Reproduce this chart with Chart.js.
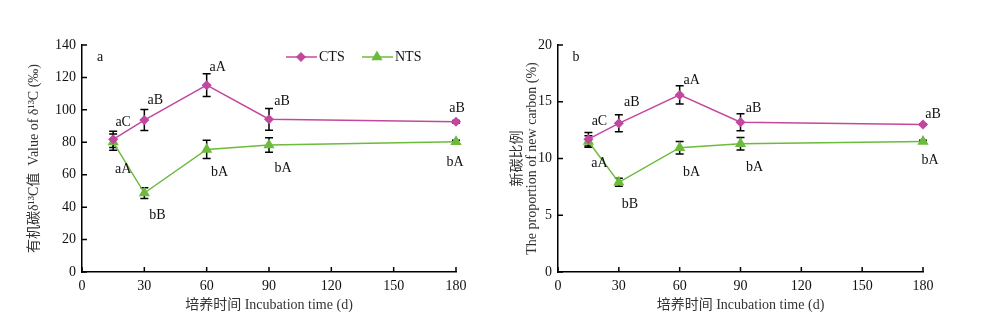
<!DOCTYPE html>
<html lang="zh">
<head>
<meta charset="UTF-8">
<title>δ13C and new carbon proportion</title>
<script src="https://cdn.jsdelivr.net/npm/chart.js"></script>
<style>
  body { margin: 0; background: #fff; width: 1000px; height: 324px; overflow: hidden; position: relative; }
  .box { position: absolute; top: 0; height: 324px; }
</style>
</head>
<body>
<div class="box" style="left:0;width:490px"><canvas id="chart-a" width="490" height="324"></canvas></div>
<div class="box" style="left:490px;width:510px"><canvas id="chart-b" width="510" height="324"></canvas></div>

<script>
// 培养时间 (d)
const days = [15, 30, 60, 90, 180];
const xTicks = [0, 30, 60, 90, 120, 150, 180];

// 图a: 有机碳 δ13C 值 (‰)
const ctsD13C    = [81.8, 93.7, 115.2, 94.2, 92.7];
const ctsD13CErr = [5.0, 6.5, 7.0, 6.7, 0.8];
const ntsD13C    = [80.1, 48.7, 75.6, 78.3, 80.4];
const ntsD13CErr = [5.0, 3.3, 5.6, 4.5, 0.8];
const ctsLettersA = ['aC', 'aB', 'aA', 'aB', 'aB'];
const ntsLettersA = ['aA', 'bB', 'bA', 'bA', 'bA'];

// 图b: 新碳比例 (%)
const ctsNew    = [11.7, 13.1, 15.6, 13.2, 13.0];
const ctsNewErr = [0.6, 0.75, 0.8, 0.75, 0.07];
const ntsNew    = [11.5, 7.9, 10.95, 11.3, 11.5];
const ntsNewErr = [0.5, 0.35, 0.55, 0.55, 0.1];
const ctsLettersB = ['aC', 'aB', 'aA', 'aB', 'aB'];
const ntsLettersB = ['aA', 'bB', 'bA', 'bA', 'bA'];

// label offsets in px from each point
const ctsOffA = [[10, -17], [11, -20], [11, -18], [13, -18], [1, -13]];
const ntsOffA = [[10, 27], [13, 22], [13, 23], [14, 23], [-1, 21]];
const ctsOffB = [[11, -18], [13, -21], [12, -15], [13, -14], [10, -10]];
const ntsOffB = [[11, 22], [11, 22], [12, 25], [14, 24], [7, 19]];

const CTS_COLOR = '#c2489e';
const NTS_COLOR = '#6cbb3c';
const FONT = "'Liberation Serif', 'Noto Sans CJK SC', serif";

// error bars, inward ticks, letters, panel tag, legend
const extras = {
  id: 'extras',
  beforeDatasetsDraw(chart) {
    const ctx = chart.ctx;
    const ys = chart.scales.y;
    ctx.save();
    ctx.strokeStyle = '#000';
    ctx.lineWidth = 1.5;
    chart.data.datasets.forEach((ds, di) => {
      const meta = chart.getDatasetMeta(di);
      meta.data.forEach((pt, i) => {
        const v = ds.data[i].y, e = ds.errors[i];
        const y1 = ys.getPixelForValue(v + e), y2 = ys.getPixelForValue(v - e);
        ctx.beginPath();
        ctx.moveTo(pt.x, y1); ctx.lineTo(pt.x, y2);
        ctx.moveTo(pt.x - 4, y1); ctx.lineTo(pt.x + 4, y1);
        ctx.moveTo(pt.x - 4, y2); ctx.lineTo(pt.x + 4, y2);
        ctx.stroke();
      });
    });
    ctx.restore();
  },
  afterDraw(chart, args, opts) {
    const ctx = chart.ctx;
    const {x: xs, y: ys} = chart.scales;
    const area = chart.chartArea;
    ctx.save();
    // inward ticks
    ctx.strokeStyle = '#000';
    ctx.lineWidth = 1.5;
    ctx.beginPath();
    xs.ticks.forEach(t => {
      const px = xs.getPixelForValue(t.value);
      ctx.moveTo(px, area.bottom); ctx.lineTo(px, area.bottom - 5);
    });
    ys.ticks.forEach(t => {
      const py = ys.getPixelForValue(t.value);
      ctx.moveTo(area.left, py); ctx.lineTo(area.left + 5, py);
    });
    ctx.stroke();

    // significance letters
    ctx.font = '14px ' + FONT;
    ctx.fillStyle = '#111';
    ctx.textAlign = 'center';
    ctx.textBaseline = 'middle';
    chart.data.datasets.forEach((ds, di) => {
      chart.getDatasetMeta(di).data.forEach((pt, i) => {
        const off = ds.letterOffsets[i];
        ctx.fillText(ds.letters[i], pt.x + off[0], pt.y + off[1]);
      });
    });

    // panel tag
    ctx.fillText(opts.panel, area.left + 18, area.top + 12);

    // legend
    if (opts.legend) {
      let lx = area.left + 204;
      const ly = area.top + 12;
      chart.data.datasets.forEach(ds => {
        ctx.strokeStyle = ds.borderColor;
        ctx.fillStyle = ds.backgroundColor;
        ctx.lineWidth = 1.5;
        ctx.beginPath();
        ctx.moveTo(lx, ly); ctx.lineTo(lx + 31, ly);
        ctx.stroke();
        Chart.helpers.drawPoint(ctx, {pointStyle: ds.pointStyle, radius: ds.pointRadius, rotation: 0, borderWidth: 1}, lx + 15, ly);
        ctx.fillStyle = '#111';
        ctx.textAlign = 'left';
        ctx.fillText(ds.label, lx + 33, ly);
        lx += 76;
      });
    }
    ctx.restore();
  }
};

function series(label, values, errors, letters, offsets, color, style, radius) {
  return {
    label: label,
    data: days.map((d, i) => ({x: d, y: values[i]})),
    errors: errors,
    letters: letters,
    letterOffsets: offsets,
    borderColor: color,
    backgroundColor: color,
    pointBackgroundColor: color,
    pointBorderColor: color,
    pointStyle: style,
    pointRadius: radius,
    borderWidth: 1.5,
    tension: 0,
    clip: 14
  };
}

function makeChart(id, cfg) {
  const tickFont = {family: FONT, size: 14};
  return new Chart(document.getElementById(id), {
    type: 'line',
    data: {datasets: cfg.datasets},
    options: {
      responsive: false,
      animation: false,
      layout: {padding: {top: 45, right: cfg.padRight, bottom: 0, left: 0}},
      plugins: {
        legend: {display: false},
        tooltip: {enabled: false},
        extras: {panel: cfg.panel, legend: cfg.legend}
      },
      scales: {
        x: {
          type: 'linear', min: 0, max: 180,
          afterBuildTicks: s => { s.ticks = xTicks.map(v => ({value: v})); },
          afterFit: s => { s.height = 52; },
          grid: {display: false, drawTicks: false},
          border: {color: '#000', width: 1.5},
          ticks: {color: '#111', font: tickFont, padding: 6, maxRotation: 0},
          title: {display: true, text: '培养时间 Incubation time (d)', color: '#333',
                  font: {family: FONT, size: 14, lineHeight: 1.1}, padding: {top: 0, bottom: 11}}
        },
        y: {
          min: 0, max: cfg.yMax,
          afterFit: s => { s.width = cfg.yWidth; },
          grid: {display: false, drawTicks: false},
          border: {color: '#000', width: 1.5},
          ticks: {stepSize: cfg.yStep, color: '#111', font: tickFont, padding: 6},
          title: {display: true, text: cfg.yTitle, color: '#333',
                  font: {family: FONT, size: 14, lineHeight: 1.07}, padding: {top: cfg.yTitlePad, bottom: 0}}
        }
      }
    },
    plugins: [extras]
  });
}

makeChart('chart-a', {
  panel: 'a', legend: true,
  yMax: 140, yStep: 20, yWidth: 82, padRight: 34, yTitlePad: 27,
  yTitle: '有机碳δ¹³C值  Value of δ¹³C (‰)',
  datasets: [
    series('CTS', ctsD13C, ctsD13CErr, ctsLettersA, ctsOffA, CTS_COLOR, 'rectRot', 4),
    series('NTS', ntsD13C, ntsD13CErr, ntsLettersA, ntsOffA, NTS_COLOR, 'triangle', 5)
  ]
});

makeChart('chart-b', {
  panel: 'b', legend: false,
  yMax: 20, yStep: 5, yWidth: 68, padRight: 77, yTitlePad: 20,
  yTitle: ['新碳比例', 'The proportion of new carbon (%)'],
  datasets: [
    series('CTS', ctsNew, ctsNewErr, ctsLettersB, ctsOffB, CTS_COLOR, 'rectRot', 4),
    series('NTS', ntsNew, ntsNewErr, ntsLettersB, ntsOffB, NTS_COLOR, 'triangle', 5)
  ]
});
</script>
</body>
</html>
